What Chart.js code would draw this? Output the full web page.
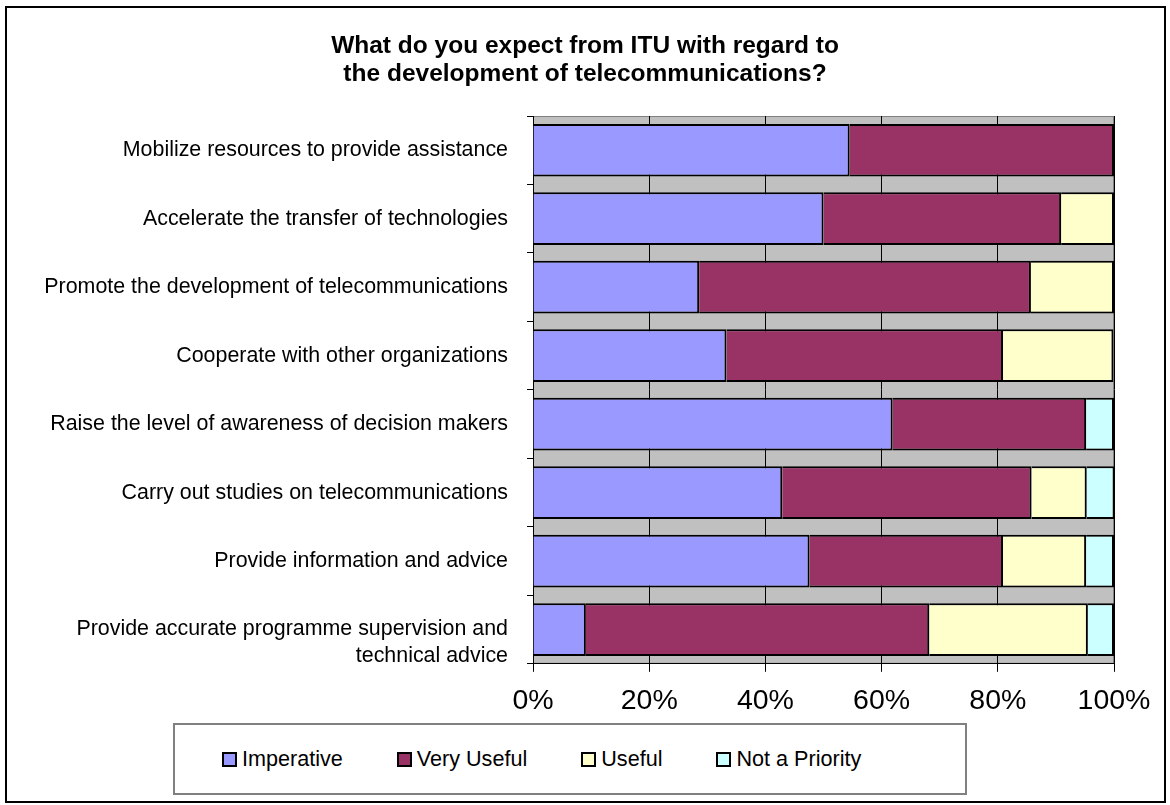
<!DOCTYPE html>
<html>
<head>
<meta charset="utf-8">
<title>ITU expectations</title>
<script src="https://cdn.jsdelivr.net/npm/chart.js@4"></script>
<style>
  body { margin: 0; background: #fff; font-family: 'Liberation Sans', Arial, sans-serif; }
  #wrap { position: relative; width: 1170px; height: 805px; }
  #frame { position: absolute; left: 5px; top: 6px; width: 1161px; height: 797px;
           border: 2px solid #000; box-sizing: border-box; pointer-events: none; }
  #legendBox { position: absolute; left: 173px; top: 723px; width: 794px; height: 72px;
               border: 2px solid #808080; box-sizing: border-box; background: #fff;
               display: flex; align-items: center; padding-left: 47px; gap: 54px; }
  .item { display: flex; align-items: center; font-size: 21.6px; color: #000; }
  .swatch { width: 15px; height: 15px; border: 2px solid #000; box-sizing: border-box; margin-right: 5px; }
</style>
</head>
<body>
<div id="wrap">
  <canvas id="myChart"></canvas>
  <div id="legendBox"></div>
  <div id="frame"></div>
</div>
<script>
// survey answers, share of respondents in %
const categories = [
  "Mobilize resources to provide assistance",
  "Accelerate the transfer of technologies",
  "Promote the development of telecommunications",
  "Cooperate with other organizations",
  "Raise the level of awareness of decision makers",
  "Carry out studies on telecommunications",
  "Provide information and advice",
  ["", "Provide accurate programme supervision and", "technical advice"]  // empty line pushes it down like excel does
];
const imperative  = [54.5, 50.0, 28.6, 33.3, 61.9, 42.9, 47.6, 9.1];
const veryUseful  = [45.5, 40.9, 57.1, 47.6, 33.3, 42.9, 33.3, 59.1];
const useful      = [0, 9.1, 14.3, 19.0, 0, 9.5, 14.3, 27.3];
const notPriority = [0, 0, 0, 0, 4.8, 4.8, 4.8, 4.5];

const seriesNames  = ["Imperative", "Very Useful", "Useful", "Not a Priority"];
const seriesColors = ["#9999FF", "#993366", "#FFFFCC", "#CCFFFF"];
const xTicks = [0, 20, 40, 60, 80, 100];

const FONT = "'Liberation Sans', Arial, sans-serif";
Chart.defaults.color = "#000";
Chart.defaults.font.family = FONT;

// gray plot background like the old excel charts
const plotBackground = {
  id: "plotBackground",
  beforeDraw(chart) {
    // title should be centered on the whole picture, not on the padded box
    const t = chart.titleBlock;
    if (t) {
      t.left = 0;
      t.right = chart.width;
      t.width = chart.width;
    }
    const a = chart.chartArea;
    const ctx = chart.ctx;
    ctx.save();
    ctx.fillStyle = "#C0C0C0";
    ctx.fillRect(a.left, a.top, a.right - a.left, a.bottom - a.top);
    ctx.strokeStyle = "#808080";
    ctx.lineWidth = 1;
    ctx.strokeRect(a.left + 0.5, a.top + 0.5, a.right - a.left - 1, a.bottom - a.top - 1);
    ctx.restore();
  }
};

const allSeries = [imperative, veryUseful, useful, notPriority];
const datasets = allSeries.map(function (values, i) {
  return {
    label: seriesNames[i],
    data: values,
    backgroundColor: seriesColors[i],
    borderColor: "#000",
    borderWidth: 2,
    barPercentage: 0.77,
    categoryPercentage: 1.0
  };
});

new Chart("myChart", {
  type: "bar",
  data: { labels: categories, datasets: datasets },
  options: {
    indexAxis: "y",
    responsive: true,
    maintainAspectRatio: false,
    animation: false,
    layout: { padding: { top: 10, right: 56, bottom: 75, left: 0 } },
    plugins: {
      legend: { display: false },
      tooltip: { enabled: false },
      title: {
        display: true,
        text: ["What do you expect from ITU with regard to", "the development of telecommunications?"],
        font: { size: 24.5, weight: "bold", lineHeight: 1.143 },
        color: "#000",
        padding: { top: 22, bottom: 28 }
      }
    },
    scales: {
      x: {
        stacked: true,
        min: 0,
        max: 100,
        afterBuildTicks: function (scale) {
          scale.ticks = xTicks.map(v => ({ value: v }));
        },
        ticks: {
          color: "#000",
          font: { size: 28.5 },
          padding: 12,
          maxRotation: 0,
          callback: v => v + "%"
        },
        grid: { color: "#000", lineWidth: 1, tickLength: 8 },
        border: { color: "#000", width: 1 }
      },
      y: {
        stacked: true,
        afterFit: function (scale) { scale.width = 533; },
        ticks: {
          color: "#000",
          font: { size: 21.4, lineHeight: 1.24 },
          padding: 19,
          autoSkip: false
        },
        grid: { drawOnChartArea: false, color: "#000", tickLength: 6, offset: true },
        border: { color: "#000", width: 1 }
      }
    }
  },
  plugins: [plotBackground]
});

// legend built from the same series arrays
const legendBox = document.getElementById("legendBox");
seriesNames.forEach(function (name, i) {
  const item = document.createElement("div");
  item.className = "item";
  item.innerHTML = '<span class="swatch" style="background:' + seriesColors[i] + '"></span>' + name;
  legendBox.appendChild(item);
});
</script>
</body>
</html>
